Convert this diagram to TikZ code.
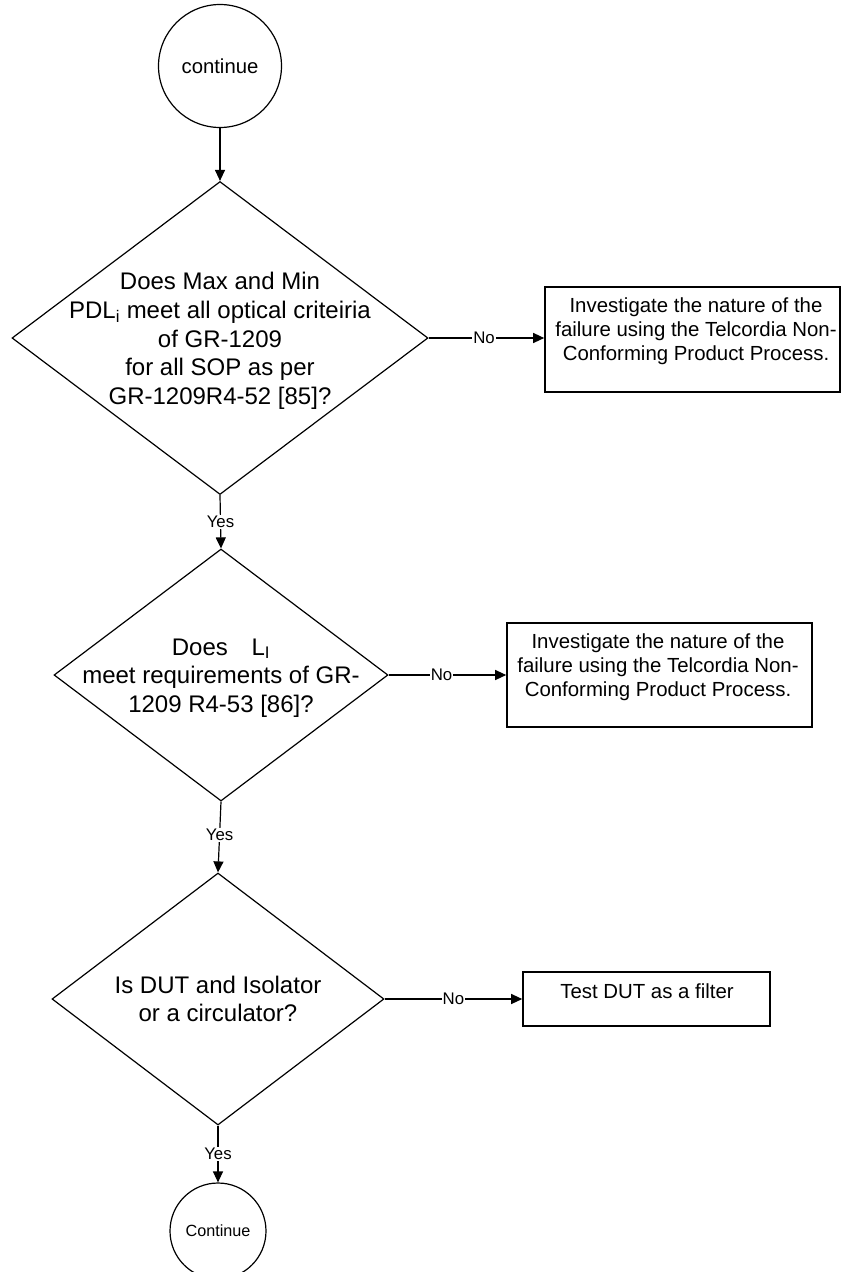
\documentclass[tikz,border=0pt]{standalone}
\usepackage{fontspec}
\setmainfont{Liberation Sans}
\usetikzlibrary{shapes.geometric,arrows.meta}
\begin{document}
\begin{tikzpicture}[x=1pt,y=-1pt,
  line width=1.2pt,
  dshape/.style={draw, diamond, inner sep=0pt},
  bigtext/.style={align=center, inner sep=0pt, font=\fontsize{24}{28.7}\selectfont},
  boxtext/.style={align=center, inner sep=0pt, font=\fontsize{20.4}{23.8}\selectfont},
  procbox/.style={draw, rectangle, inner sep=0pt, line width=1.6pt},
  termcircle/.style={draw, circle, inner sep=0pt},
  flow/.style={-{Triangle[length=11pt,width=10pt]}},
  lbl/.style={fill=white, inner sep=1pt, font=\fontsize{16.8}{18}\selectfont}]
\useasboundingbox (0,0) rectangle (841,1272);
\fill[white] (0,0) rectangle (841,1272);

% terminals
\node[termcircle, minimum size=123pt, font=\fontsize{20.3}{24}\selectfont] (c1) at (220,66) {continue};
\node[termcircle, minimum size=96pt, font=\fontsize{16.2}{19}\selectfont] (c2) at (218,1231) {Continue};

% decisions
\node[dshape, minimum width=416pt, minimum height=313pt] (d1) at (220,338) {};
\node[bigtext] (d1t) at (220,341) {Does Max and Min\\PDL\textsubscript{i} meet all optical criteiria\\of GR-1209\\for all SOP as per\\GR-1209R4-52 [85]?};

\node[dshape, minimum width=334pt, minimum height=252pt] (d2) at (221,675) {};
\node[bigtext] (d2t) at (221,678) {Does\hspace{17pt} L\textsubscript{I}\\meet requirements of GR-\\1209 R4-53 [86]?};

\node[dshape, minimum width=332pt, minimum height=252pt] (d3) at (218,999) {};
\node[bigtext] (d3t) at (218,999) {Is DUT and Isolator\\or a circulator?};

% process boxes
\node[procbox, minimum width=295pt, minimum height=105pt] (b1) at (692.5,339.5) {};
\node[boxtext] (b1t) at (696,331) {Investigate the nature of the\\failure using the Telcordia Non-\\Conforming Product Process.};

\node[procbox, minimum width=305pt, minimum height=104pt] (b2) at (659.5,675) {};
\node[boxtext] (b2t) at (658,667) {Investigate the nature of the\\failure using the Telcordia Non-\\Conforming Product Process.};

\node[procbox, minimum width=247pt, minimum height=54pt] (b3) at (646.5,999) {};
\node[boxtext] (b3t) at (647,991) {Test DUT as a filter};

% connectors
\draw[flow] (c1.south) -- (d1.north);
\draw[flow] (d1.east) -- node[lbl, pos=0.48] {No} (b1.west |- d1.east);
\draw[flow] (d1.south) -- node[lbl, pos=0.5] {Yes} (d2.north);
\draw[flow] (d2.east) -- node[lbl, pos=0.45] {No} (b2.west |- d2.east);
\draw[flow] (d2.south) -- node[lbl, pos=0.47] {Yes} (d3.north);
\draw[flow] (d3.east) -- node[lbl, pos=0.5] {No} (b3.west |- d3.east);
\draw[flow] (d3.south) -- node[lbl, pos=0.5] {Yes} (c2.north);
\end{tikzpicture}
\end{document}
